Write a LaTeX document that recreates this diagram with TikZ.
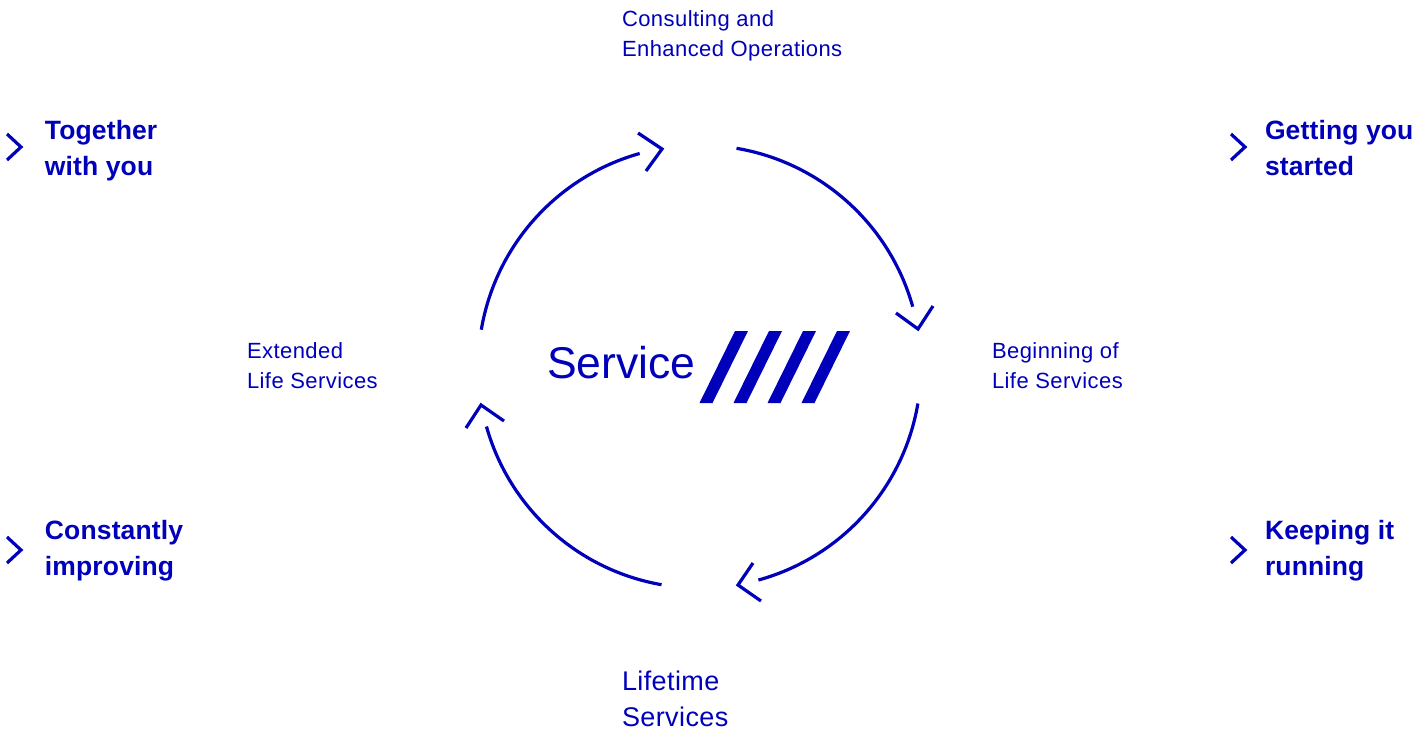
\documentclass[tikz,border=0pt]{standalone}
\usepackage{fontspec}
\setmainfont{Liberation Sans}
\definecolor{brand}{HTML}{0000BB}
\tikzset{
  x=1pt,y=1pt,
  curve/.style={draw=brand,line width=3.2pt},
  head/.style={draw=brand,line width=3.2pt,miter limit=10},
  chev/.style={draw=brand,line width=3.2pt},
  stripe/.style={fill=brand,draw=none},
  lab/.style={anchor=north west,inner sep=0pt,outer sep=0pt,text=brand,align=left},
  small/.style={lab,font=\fontsize{22}{30}\selectfont\addfontfeature{LetterSpace=2}},
  mid/.style={lab,font=\fontsize{27}{36}\selectfont\addfontfeature{LetterSpace=1.5}},
  strong/.style={lab,font=\bfseries\fontsize{26.5}{35.5}\selectfont\addfontfeature{LetterSpace=0.5}},
}
\begin{document}
\begin{tikzpicture}
\useasboundingbox (0,-729) rectangle (1428,0);
\coordinate (c) at (699.6,-366.6);
% ring
\draw[curve] ([shift={(c)}]80.4:221.4) arc[start angle=80.4,end angle=15.7,radius=221.4];
\draw[curve] ([shift={(c)}]-9.6:221.4) arc[start angle=-9.6,end angle=-74.6,radius=221.4];
\draw[curve] ([shift={(c)}]260.1:221.4) arc[start angle=260.1,end angle=195.7,radius=221.4];
\draw[curve] ([shift={(c)}]170.4:221.4) arc[start angle=170.4,end angle=105.7,radius=221.4];
% ring arrowheads
\draw[head] (638,-133) -- (662,-149) -- (646,-171);
\draw[head] (896,-313) -- (918,-329) -- (933,-306);
\draw[head] (753,-563) -- (738,-585) -- (761,-601);
\draw[head] (466,-428) -- (481,-405) -- (504,-421);
% stripes
\foreach \k in {0,1,2,3}{
  \fill[stripe,xshift=34*\k] (699.5,-403) -- (712.5,-403) -- (748,-331) -- (735,-331) -- cycle;
}
% chevrons
\draw[chev] (7,-134) -- (21,-147) -- (7,-160);
\draw[chev] (1231,-134) -- (1245,-147) -- (1231,-160);
\draw[chev] (7,-537) -- (21,-550) -- (7,-563);
\draw[chev] (1231,-537) -- (1245,-550) -- (1231,-563);
% texts
\node[lab,font=\fontsize{44.5}{50}\selectfont] (service) at (547,-346.5) {Service};
\node[small] (consult) at (622,-11) {Consulting and\\Enhanced Operations};
\node[small] (begin) at (992,-343) {Beginning of\\Life Services};
\node[small] (ext) at (247,-343) {Extended\\Life Services};
\node[mid] (life) at (622,-671) {Lifetime\\Services};
\node[strong] (together) at (45,-120.5) {Together\\with you};
\node[strong] (getting) at (1265,-120.5) {Getting you\\started};
\node[strong] (constant) at (45,-520.5) {Constantly\\improving};
\node[strong] (keeping) at (1265,-520.5) {Keeping it\\running};
\end{tikzpicture}
\end{document}
